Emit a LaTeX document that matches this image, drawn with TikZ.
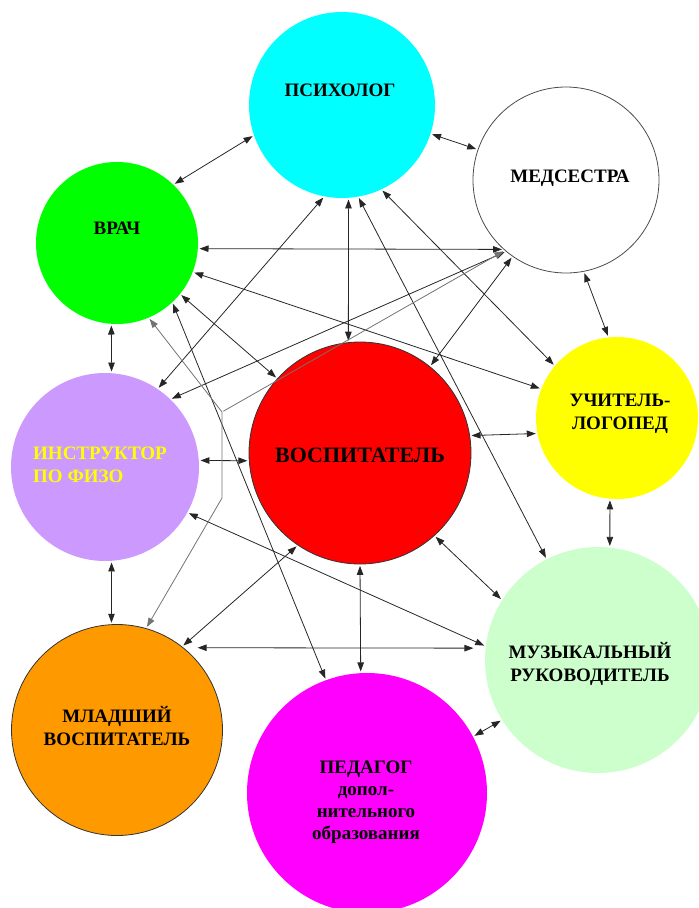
\documentclass[tikz,border=0pt]{standalone}
\usepackage{fontspec}
\setmainfont{Liberation Serif}
\usetikzlibrary{arrows.meta,shapes}
\definecolor{psycyan}{RGB}{0,255,255}
\definecolor{vrachgreen}{RGB}{0,255,0}
\definecolor{instrlilac}{RGB}{204,153,255}
\definecolor{vospred}{RGB}{255,0,0}
\definecolor{uchyellow}{RGB}{255,255,0}
\definecolor{muzmint}{RGB}{204,255,204}
\definecolor{mladorange}{RGB}{255,153,0}
\definecolor{pedmagenta}{RGB}{255,0,255}

\begin{document}
\begin{tikzpicture}[x=1pt,y=-1pt]
	\tikzset{role/.style={circle,inner sep=0pt}}
	\tikzset{rolename/.style={font=\fontsize{19}{23}\selectfont\bfseries,align=center,inner sep=0pt}}
	\tikzset{link/.style={{Triangle[length=9pt,width=6.5pt]}-{Triangle[length=9pt,width=6.5pt]},line width=0.8pt,draw=black!85,shorten >=1.5pt,shorten <=1.5pt}}
	\useasboundingbox (0,0) rectangle (699,908);
	\clip (0,0) rectangle (699,908);
	\node[role,fill=psycyan,minimum size=186pt] (psy) at (342,105) {};
	\node[role,fill=white,draw=black!70,line width=0.8pt,minimum size=186pt] (med) at (566,180) {};
	\node[role,fill=vrachgreen,minimum size=162pt] (vrach) at (117,243) {};
	\node[role,fill=instrlilac,minimum size=188pt] (instr) at (105,467) {};
	\node[role,fill=vospred,draw=black!80,line width=0.8pt,minimum size=222pt] (vosp) at (360,453) {};
	\node[role,fill=uchyellow,minimum size=162pt] (uch) at (617,418) {};
	\node[role,fill=muzmint,minimum size=226pt] (muz) at (598,660) {};
	\node[role,fill=mladorange,draw=black!80,line width=0.8pt,minimum size=211pt] (mlad) at (117,730) {};
	\node[role,fill=pedmagenta,minimum size=240pt] (ped) at (367,793) {};
	\node[rolename] (psy-t) at (340,90) {ПСИХОЛОГ};
	\node[rolename] (med-t) at (570,178) {МЕДСЕСТРА};
	\node[rolename] (vrach-t) at (117,228) {ВРАЧ};
	\node[rolename,align=left,text=uchyellow] (instr-t) at (100,465) {ИНСТРУКТОР\\ПО ФИЗО};
	\node[rolename,font=\fontsize{22}{26}\selectfont\bfseries] (vosp-t) at (360,455) {ВОСПИТАТЕЛЬ};
	\node[rolename] (uch-t) at (620,414) {УЧИТЕЛЬ-\\ЛОГОПЕД};
	\node[rolename] (muz-t) at (590,664) {МУЗЫКАЛЬНЫЙ\\РУКОВОДИТЕЛЬ};
	\node[rolename] (mlad-t) at (117,726) {МЛАДШИЙ\\ВОСПИТАТЕЛЬ};
	\node[rolename,font=\fontsize{19}{22}\selectfont\bfseries] (ped-t) at (366,802) {ПЕДАГОГ\\допол-\\нительного\\образования};
	\coordinate (kink1) at (222,412);
	\coordinate (kink2) at (222,498);
	\draw[link] (psy.199) -- (vrach.46);
	\draw[link] (psy.342) -- (med.161);
	\draw[link] (med.281) -- (uch.96);
	\draw[link] (uch.265) -- (muz.84);
	\draw[link] (muz.212) -- (ped.28);
	\draw[link] (vrach.266) -- (instr.86);
	\draw[link] (instr.274) -- (mlad.93);
	\draw[link] (instr.4) -- (vosp.184);
	\draw[link] (vosp.9) -- (uch.191);
	\draw[link] (vosp.270) -- (ped.93);
	\draw[link] (vosp.312) -- (muz.148);
	\draw[link] (vosp.96) -- (psy.274);
	\draw[link] (vrach.356) -- (med.228);
	\draw[link] (vrach.339) -- (uch.159);
	\draw[link] (vrach.321) -- (vosp.138);
	\draw[link] (vrach.313) -- (ped.110);
	\draw[link] (psy.259) -- (instr.56);
	\draw[link] (psy.280) -- (muz.117);
	\draw[link] (psy.295) -- (uch.140);
	\draw[link] (med.230) -- (instr.46);
	\draw[link] (med.235) -- (vosp.51);
	\draw[link] (instr.331) -- (muz.173);
	\draw[link] (vosp.236) -- (mlad.52);
	\draw[link,shorten <=14pt,shorten >=12pt] (mlad.51) -- (muz.174);
	\draw[link,draw=black!55] (vrach.293) -- (kink1) -- (kink2) -- (mlad.74);
	\draw[link,-{Triangle[length=9pt,width=6.5pt]},draw=black!55] (kink1) -- (med.229);
\end{tikzpicture}
\end{document}
